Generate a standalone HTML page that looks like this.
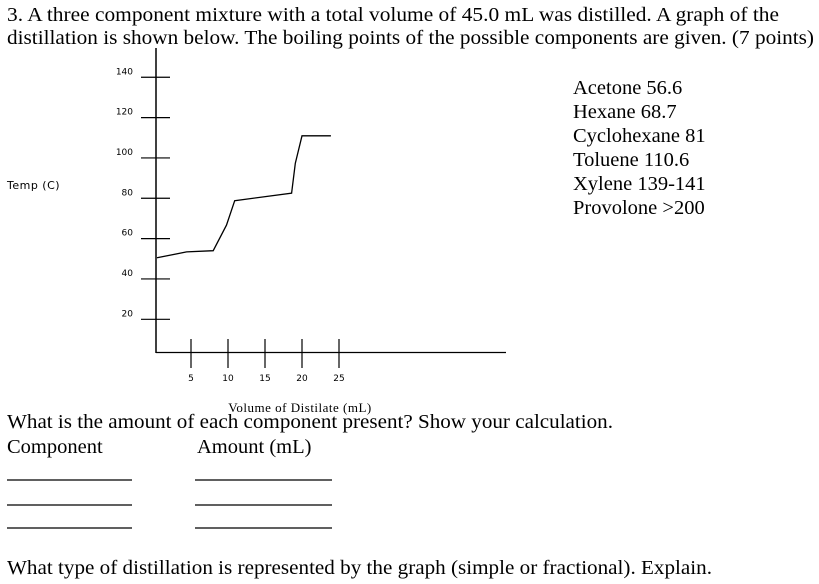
<!DOCTYPE html>
<html><head><meta charset="utf-8"><style>
body{margin:0;background:#fff}
svg{display:block}
.t{font-family:"Liberation Serif",serif;font-size:20.5px;fill:#000}
.s{font-family:"DejaVu Sans","Liberation Sans",sans-serif;font-size:10px;fill:#000}
</style></head><body>
<svg id="c" width="819" height="584" viewBox="0 0 819 584">
<text class="t" x="7" y="21" textLength="772" lengthAdjust="spacingAndGlyphs">3.  A three component mixture with a total volume of 45.0 mL was distilled.  A graph of the</text>
<text class="t" x="7" y="44" textLength="807" lengthAdjust="spacingAndGlyphs">distillation is shown below.  The boiling points of the possible components are given.  (7 points)</text>
<g id="chart"></g>
<text x="7" y="189" style="font-family:'DejaVu Sans',sans-serif;font-size:11px;letter-spacing:0.5px">Temp (C)</text>
<text x="300" y="412" text-anchor="middle" style="font-family:'Liberation Serif',serif;font-size:13px;letter-spacing:0.5px">Volume of Distilate (mL)</text>
<g>
<text class="t" x="573" y="94">Acetone 56.6</text>
<text class="t" x="573" y="118">Hexane  68.7</text>
<text class="t" x="573" y="142">Cyclohexane 81</text>
<text class="t" x="573" y="166">Toluene 110.6</text>
<text class="t" x="573" y="190">Xylene 139-141</text>
<text class="t" x="573" y="214">Provolone &gt;200</text>
</g>
<text class="t" x="7" y="428" textLength="606" lengthAdjust="spacingAndGlyphs">What is the amount of each component present?  Show your calculation.</text>
<text class="t" x="7" y="453">Component</text>
<text class="t" x="197" y="453">Amount (mL)</text>
<g stroke="#000" stroke-width="1.2">
<line x1="7" y1="480" x2="132" y2="480"/>
<line x1="7" y1="505" x2="132" y2="505"/>
<line x1="7" y1="528" x2="132" y2="528"/>
<line x1="195" y1="480" x2="332" y2="480"/>
<line x1="195" y1="505" x2="332" y2="505"/>
<line x1="195" y1="528" x2="332" y2="528"/>
</g>
<text class="t" x="7" y="574" textLength="705" lengthAdjust="spacingAndGlyphs">What type of distillation is represented by the graph (simple or fractional).  Explain.</text>
</svg>
<script>
const yTicks=[20,40,60,80,100,120,140];
const xTicks=[5,10,15,20,25];
const volumes=[0.4,4.4,8.0,9.8,10.9,18.6,19.1,20.0,23.9];
const temps=[50.5,53.4,54.0,66.7,78.8,82.5,97.3,111.0,111.0];
const NS='http://www.w3.org/2000/svg';
const g=document.getElementById('chart');
const X=v=>154+v*7.4;
const Y=v=>319.3-(v-20)*2.017;
function mk(t,a,p){const e=document.createElementNS(NS,t);for(const k in a)e.setAttribute(k,a[k]);(p||g).appendChild(e);return e;}
let e=mk('line',{x1:156,y1:48,x2:156,y2:353,stroke:'#000','stroke-width':1.5});


e=mk('line',{x1:156,y1:352.5,x2:506,y2:352.5,stroke:'#000','stroke-width':1.3});


yTicks.forEach(v=>{
  const y=Y(v);
  let l=mk('line',{x1:141,y1:y,x2:170,y2:y,stroke:'#000','stroke-width':1.2});
  
  
  let t=mk('text',{x:133,y:y-3,'text-anchor':'end','font-family':'DejaVu Sans, sans-serif','font-size':'9'});
  t.textContent=v;
  
  
});
xTicks.forEach(v=>{
  const x=X(v);
  let l=mk('line',{x1:x,y1:339,x2:x,y2:368,stroke:'#000','stroke-width':1.2});
  
  
  let t=mk('text',{x:x,y:381,'text-anchor':'middle','font-family':'DejaVu Sans, sans-serif','font-size':'9'});
  t.textContent=v;
  
  
});
const pts=volumes.map((v,i)=>X(v).toFixed(1)+','+Y(temps[i]).toFixed(1)).join(' ');
e=mk('polyline',{points:pts,fill:'none',stroke:'#000','stroke-width':1.3});


</script>
</body></html>
